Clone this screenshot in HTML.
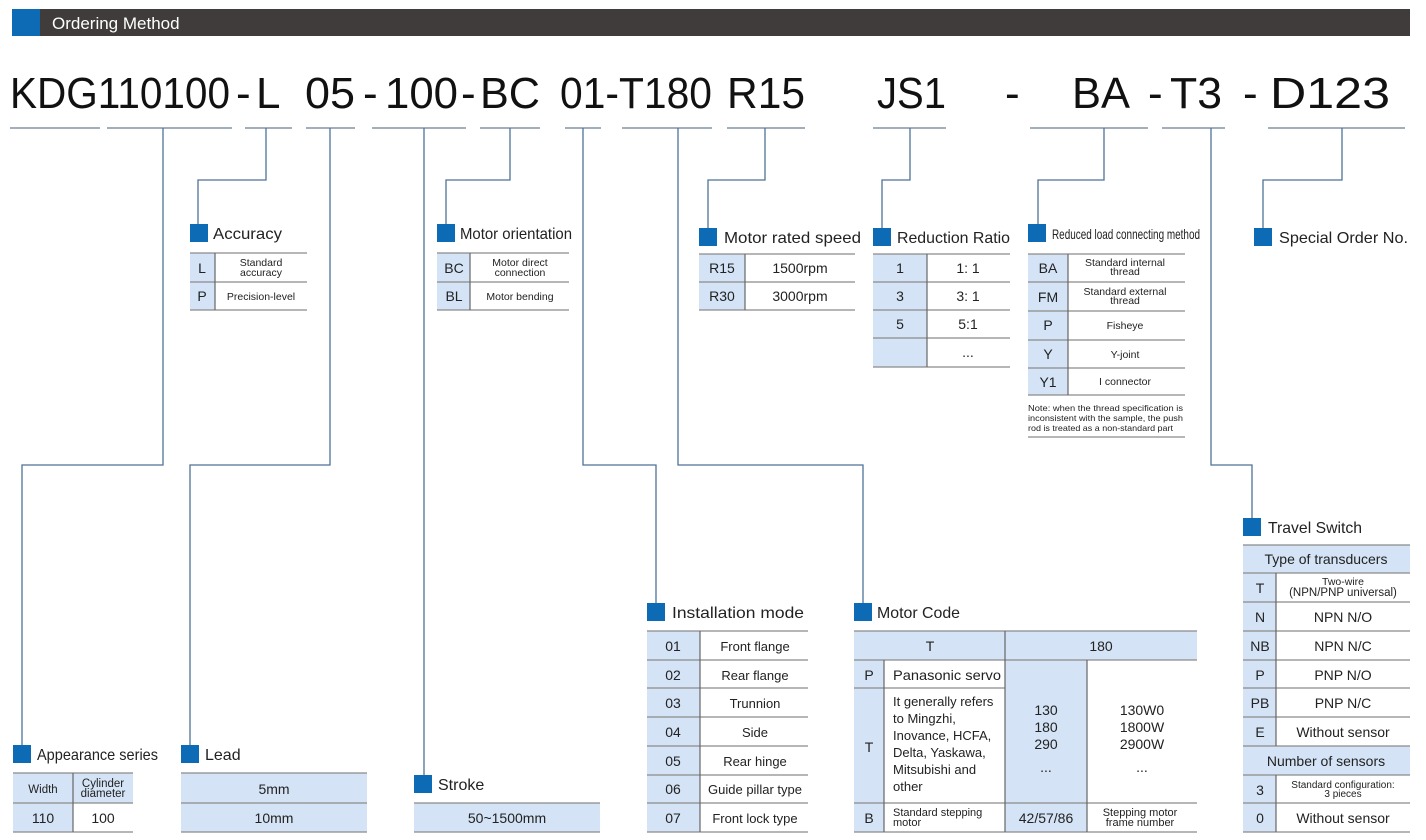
<!DOCTYPE html>
<html><head><meta charset="utf-8"><style>
html,body{margin:0;padding:0;background:#fff;}
svg{display:block}
text{font-family:"Liberation Sans Narrow","Liberation Sans",sans-serif;fill:#222}
.big{font-family:"Liberation Sans",sans-serif;font-size:44px;fill:#111}
.lab{font-size:16px;fill:#222}
.c{text-anchor:middle;font-size:14px}
.s{text-anchor:middle;font-size:10.5px}
.cn{stroke:#4f7297;stroke-width:1.3;fill:none}
.ul{stroke:#6b7d90;stroke-width:1.3}
.hl{stroke:#8a8a8a;stroke-width:1.3}
.vl{stroke:#666;stroke-width:1.2}
.lb{fill:#d4e4f6}
.sq{fill:#0d6ab5}
</style></head><body>
<svg width="1426" height="840" viewBox="0 0 1426 840" xmlns="http://www.w3.org/2000/svg">
<rect x="12" y="9" width="1398" height="27" fill="#3f3c3b"/>
<rect x="12" y="9" width="28" height="27" fill="#0d6ab5"/>
<text x="52" y="29" style="font-family:'Liberation Sans',sans-serif;font-size:17px;fill:#fff">Ordering Method</text>

<text class="big" x="10" y="108" textLength="220" lengthAdjust="spacingAndGlyphs">KDG110100</text>
<text class="big" x="236" y="108">-</text>
<text class="big" x="256" y="108">L</text>
<text class="big" x="305" y="108" textLength="50" lengthAdjust="spacingAndGlyphs">05</text>
<text class="big" x="363" y="108">-</text>
<text class="big" x="385" y="108" textLength="73" lengthAdjust="spacingAndGlyphs">100</text>
<text class="big" x="461" y="108">-</text>
<text class="big" x="480" y="108" textLength="60" lengthAdjust="spacingAndGlyphs">BC</text>
<text class="big" x="560" y="108" textLength="152" lengthAdjust="spacingAndGlyphs">01-T180</text>
<text class="big" x="727" y="108" textLength="78" lengthAdjust="spacingAndGlyphs">R15</text>
<text class="big" x="877" y="108" textLength="69" lengthAdjust="spacingAndGlyphs">JS1</text>
<text class="big" x="1005" y="108">-</text>
<text class="big" x="1072" y="108" textLength="58" lengthAdjust="spacingAndGlyphs">BA</text>
<text class="big" x="1148" y="108">-</text>
<text class="big" x="1170" y="108" textLength="52" lengthAdjust="spacingAndGlyphs">T3</text>
<text class="big" x="1243" y="108">-</text>
<text class="big" x="1270" y="108" textLength="120" lengthAdjust="spacingAndGlyphs">D123</text>

<g class="ul">
<line x1="10" y1="128" x2="100" y2="128"/><line x1="107" y1="128" x2="232" y2="128"/>
<line x1="245" y1="128" x2="292" y2="128"/><line x1="306" y1="128" x2="355" y2="128"/>
<line x1="372" y1="128" x2="466" y2="128"/><line x1="480" y1="128" x2="540" y2="128"/>
<line x1="565" y1="128" x2="601" y2="128"/><line x1="622" y1="128" x2="712" y2="128"/>
<line x1="727" y1="128" x2="805" y2="128"/><line x1="873" y1="128" x2="946" y2="128"/>
<line x1="1030" y1="128" x2="1148" y2="128"/><line x1="1162" y1="128" x2="1225" y2="128"/>
<line x1="1268" y1="128" x2="1405" y2="128"/>
</g>

<g class="cn">
<polyline points="163,128 163,465 22,465 22,746"/>
<polyline points="266,128 266,180 198,180 198,225"/>
<polyline points="330,128 330,465 190,465 190,746"/>
<polyline points="424,128 424,776"/>
<polyline points="510,128 510,180 446,180 446,225"/>
<polyline points="583,128 583,465 656,465 656,604"/>
<polyline points="678,128 678,465 863,465 863,604"/>
<polyline points="765,128 765,180 708,180 708,229"/>
<polyline points="910,128 910,180 882,180 882,229"/>
<polyline points="1104,128 1104,180 1038,180 1038,225"/>
<polyline points="1211,128 1211,465 1252,465 1252,519"/>
<polyline points="1342,128 1342,180 1263,180 1263,229"/>
</g>

<rect class="sq" x="190" y="224" width="18" height="18"/>
<text class="lab" x="213" y="239" textLength="69" lengthAdjust="spacingAndGlyphs">Accuracy</text>
<rect class="lb" x="190" y="253" width="25" height="57"/>
<g class="hl"><line x1="190" y1="253" x2="307" y2="253"/><line x1="190" y1="282" x2="307" y2="282"/><line x1="190" y1="310" x2="307" y2="310"/></g>
<line class="vl" x1="215" y1="253" x2="215" y2="310"/>
<text class="c" x="202" y="273">L</text><text class="c" x="202" y="301">P</text>
<text class="s" x="261" y="266">Standard</text><text class="s" x="261" y="276">accuracy</text>
<text class="s" x="261" y="300">Precision-level</text>

<rect class="sq" x="437" y="224" width="18" height="18"/>
<text class="lab" x="460" y="239" textLength="112" lengthAdjust="spacingAndGlyphs">Motor orientation</text>
<rect class="lb" x="437" y="253" width="33" height="57"/>
<g class="hl"><line x1="437" y1="253" x2="569" y2="253"/><line x1="437" y1="282" x2="569" y2="282"/><line x1="437" y1="310" x2="569" y2="310"/></g>
<line class="vl" x1="470" y1="253" x2="470" y2="310"/>
<text class="c" x="454" y="273">BC</text><text class="c" x="454" y="301">BL</text>
<text class="s" x="520" y="266">Motor direct</text><text class="s" x="520" y="276">connection</text>
<text class="s" x="520" y="300">Motor bending</text>

<rect class="sq" x="699" y="228" width="18" height="18"/>
<text class="lab" x="724" y="243" textLength="137" lengthAdjust="spacingAndGlyphs">Motor rated speed</text>
<rect class="lb" x="699" y="254" width="46" height="56"/>
<g class="hl"><line x1="699" y1="254" x2="855" y2="254"/><line x1="699" y1="282" x2="855" y2="282"/><line x1="699" y1="310" x2="855" y2="310"/></g>
<line class="vl" x1="745" y1="254" x2="745" y2="310"/>
<text class="c" x="722" y="273">R15</text><text class="c" x="722" y="301">R30</text>
<text class="c" x="800" y="273">1500rpm</text><text class="c" x="800" y="301">3000rpm</text>

<rect class="sq" x="873" y="228" width="18" height="18"/>
<text class="lab" x="897" y="243" textLength="113" lengthAdjust="spacingAndGlyphs">Reduction Ratio</text>
<rect class="lb" x="873" y="254" width="54" height="113"/>
<g class="hl"><line x1="873" y1="254" x2="1010" y2="254"/><line x1="873" y1="282" x2="1010" y2="282"/><line x1="873" y1="310" x2="1010" y2="310"/><line x1="873" y1="338" x2="1010" y2="338"/><line x1="873" y1="367" x2="1010" y2="367"/></g>
<line class="vl" x1="927" y1="254" x2="927" y2="367"/>
<text class="c" x="900" y="273">1</text><text class="c" x="900" y="301">3</text><text class="c" x="900" y="329">5</text>
<text class="c" x="968" y="273">1: 1</text><text class="c" x="968" y="301">3: 1</text><text class="c" x="968" y="329">5:1</text><text class="c" x="968" y="357">...</text>

<rect class="sq" x="1028" y="224" width="18" height="18"/>
<text x="1052" y="239" style="font-size:14px" textLength="148" lengthAdjust="spacingAndGlyphs">Reduced load connecting method</text>
<rect class="lb" x="1028" y="254" width="40" height="141"/>
<g class="hl"><line x1="1028" y1="254" x2="1185" y2="254"/><line x1="1028" y1="282" x2="1185" y2="282"/><line x1="1028" y1="311" x2="1185" y2="311"/><line x1="1028" y1="340" x2="1185" y2="340"/><line x1="1028" y1="368" x2="1185" y2="368"/><line x1="1028" y1="395" x2="1185" y2="395"/><line x1="1028" y1="437" x2="1185" y2="437"/></g>
<line class="vl" x1="1068" y1="254" x2="1068" y2="395"/>
<text class="c" x="1048" y="273">BA</text><text class="c" x="1048" y="302">FM</text><text class="c" x="1048" y="330">P</text><text class="c" x="1048" y="359">Y</text><text class="c" x="1048" y="387">Y1</text>
<text class="s" x="1125" y="266">Standard internal</text><text class="s" x="1125" y="275">thread</text>
<text class="s" x="1125" y="295">Standard external</text><text class="s" x="1125" y="304">thread</text>
<text class="s" x="1125" y="329">Fisheye</text><text class="s" x="1125" y="358">Y-joint</text><text class="s" x="1125" y="385">I connector</text>
<text x="1028" y="411" style="font-size:8.5px" textLength="155" lengthAdjust="spacingAndGlyphs">Note: when the thread specification is</text>
<text x="1028" y="421" style="font-size:8.5px" textLength="155" lengthAdjust="spacingAndGlyphs">inconsistent with the sample, the push</text>
<text x="1028" y="431" style="font-size:8.5px" textLength="145" lengthAdjust="spacingAndGlyphs">rod is treated as a non-standard part</text>

<rect class="sq" x="1254" y="228" width="18" height="18"/>
<text class="lab" x="1279" y="243" textLength="129" lengthAdjust="spacingAndGlyphs">Special Order No.</text>

<rect class="sq" x="1243" y="518" width="18" height="18"/>
<text class="lab" x="1268" y="533" textLength="94" lengthAdjust="spacingAndGlyphs">Travel Switch</text>
<rect class="lb" x="1243" y="545" width="167" height="28"/>
<rect class="lb" x="1243" y="573" width="33" height="173"/>
<rect class="lb" x="1243" y="746" width="167" height="29"/>
<rect class="lb" x="1243" y="775" width="33" height="57"/>
<g class="hl">
<line x1="1243" y1="545" x2="1410" y2="545"/><line x1="1243" y1="573" x2="1410" y2="573"/><line x1="1243" y1="602" x2="1410" y2="602"/><line x1="1243" y1="631" x2="1410" y2="631"/><line x1="1243" y1="660" x2="1410" y2="660"/><line x1="1243" y1="688" x2="1410" y2="688"/><line x1="1243" y1="717" x2="1410" y2="717"/><line x1="1243" y1="746" x2="1410" y2="746"/><line x1="1243" y1="775" x2="1410" y2="775"/><line x1="1243" y1="803" x2="1410" y2="803"/><line x1="1243" y1="832" x2="1410" y2="832"/>
</g>
<line class="vl" x1="1276" y1="573" x2="1276" y2="746"/><line class="vl" x1="1276" y1="775" x2="1276" y2="832"/>
<text class="c" x="1326" y="564">Type of transducers</text>
<text class="c" x="1260" y="593">T</text><text class="s" x="1343" y="585">Two-wire</text><text class="s" x="1343" y="596" style="font-size:11.5px">(NPN/PNP universal)</text>
<text class="c" x="1260" y="622">N</text><text class="c" x="1343" y="622">NPN  N/O</text>
<text class="c" x="1260" y="651">NB</text><text class="c" x="1343" y="651">NPN  N/C</text>
<text class="c" x="1260" y="680">P</text><text class="c" x="1343" y="680">PNP  N/O</text>
<text class="c" x="1260" y="708">PB</text><text class="c" x="1343" y="708">PNP  N/C</text>
<text class="c" x="1260" y="737">E</text><text class="c" x="1343" y="737">Without sensor</text>
<text class="c" x="1326" y="766">Number of sensors</text>
<text class="c" x="1260" y="795">3</text><text class="s" x="1343" y="788" style="font-size:10px">Standard configuration:</text><text class="s" x="1343" y="797" style="font-size:10px">3 pieces</text>
<text class="c" x="1260" y="823">0</text><text class="c" x="1343" y="823">Without sensor</text>

<rect class="sq" x="647" y="603" width="18" height="18"/>
<text class="lab" x="672" y="618" textLength="132" lengthAdjust="spacingAndGlyphs">Installation mode</text>
<rect class="lb" x="647" y="631" width="53" height="201"/>
<g class="hl">
<line x1="647" y1="631" x2="808" y2="631"/><line x1="647" y1="660" x2="808" y2="660"/><line x1="647" y1="688" x2="808" y2="688"/><line x1="647" y1="717" x2="808" y2="717"/><line x1="647" y1="746" x2="808" y2="746"/><line x1="647" y1="775" x2="808" y2="775"/><line x1="647" y1="803" x2="808" y2="803"/><line x1="647" y1="832" x2="808" y2="832"/>
</g>
<line class="vl" x1="700" y1="631" x2="700" y2="832"/>
<text class="c" x="673" y="651">01</text><text class="c" x="673" y="680">02</text><text class="c" x="673" y="708">03</text><text class="c" x="673" y="737">04</text><text class="c" x="673" y="766">05</text><text class="c" x="673" y="794">06</text><text class="c" x="673" y="823">07</text>
<text class="c" x="755" y="651" style="font-size:13px">Front flange</text><text class="c" x="755" y="680" style="font-size:13px">Rear flange</text><text class="c" x="755" y="708" style="font-size:13px">Trunnion</text><text class="c" x="755" y="737" style="font-size:13px">Side</text><text class="c" x="755" y="766" style="font-size:13px">Rear hinge</text><text class="c" x="755" y="794" style="font-size:13px">Guide pillar type</text><text class="c" x="755" y="823" style="font-size:13px">Front lock type</text>

<rect class="sq" x="854" y="603" width="18" height="18"/>
<text class="lab" x="877" y="618" textLength="83" lengthAdjust="spacingAndGlyphs">Motor Code</text>
<rect class="lb" x="854" y="631" width="343" height="29"/>
<rect class="lb" x="854" y="660" width="30" height="172"/>
<rect class="lb" x="1005" y="660" width="82" height="172"/>
<g class="hl">
<line x1="854" y1="631" x2="1197" y2="631"/><line x1="854" y1="660" x2="1197" y2="660"/><line x1="854" y1="688" x2="1005" y2="688"/><line x1="854" y1="803" x2="1197" y2="803"/><line x1="854" y1="832" x2="1197" y2="832"/>
</g>
<line class="vl" x1="1005" y1="631" x2="1005" y2="832"/><line class="vl" x1="884" y1="660" x2="884" y2="832"/><line class="vl" x1="1087" y1="660" x2="1087" y2="832"/>
<text class="c" x="930" y="651">T</text><text class="c" x="1101" y="651">180</text>
<text class="c" x="869" y="680">P</text><text x="893" y="680" style="font-size:14px" textLength="108" lengthAdjust="spacingAndGlyphs">Panasonic servo</text>
<text class="c" x="869" y="752">T</text>
<text x="893" y="706" style="font-size:13px">It generally refers</text>
<text x="893" y="723" style="font-size:13px">to Mingzhi,</text>
<text x="893" y="740" style="font-size:13px">Inovance, HCFA,</text>
<text x="893" y="757" style="font-size:13px">Delta, Yaskawa,</text>
<text x="893" y="774" style="font-size:13px">Mitsubishi and</text>
<text x="893" y="791" style="font-size:13px">other</text>
<text class="c" x="1046" y="715">130</text><text class="c" x="1046" y="732">180</text><text class="c" x="1046" y="749">290</text><text class="c" x="1046" y="772">...</text>
<text class="c" x="1142" y="715">130W0</text><text class="c" x="1142" y="732">1800W</text><text class="c" x="1142" y="749">2900W</text><text class="c" x="1142" y="772">...</text>
<text class="c" x="869" y="823">B</text>
<text x="893" y="816" style="font-size:11px">Standard stepping</text><text x="893" y="826" style="font-size:11px">motor</text>
<text class="c" x="1046" y="823">42/57/86</text>
<text class="s" x="1140" y="816" style="font-size:11px">Stepping motor</text><text class="s" x="1140" y="826" style="font-size:11px">frame number</text>

<rect class="sq" x="13" y="745" width="18" height="18"/>
<text class="lab" x="37" y="760" textLength="121" lengthAdjust="spacingAndGlyphs">Appearance series</text>
<rect class="lb" x="13" y="773" width="120" height="30"/>
<rect class="lb" x="13" y="803" width="60" height="29"/>
<g class="hl"><line x1="13" y1="773" x2="133" y2="773"/><line x1="13" y1="803" x2="133" y2="803"/><line x1="13" y1="832" x2="133" y2="832"/></g>
<line class="vl" x1="73" y1="773" x2="73" y2="832"/>
<text class="s" x="43" y="793" style="font-size:11.5px">Width</text>
<text class="s" x="103" y="787" style="font-size:11.5px">Cylinder</text><text class="s" x="103" y="797" style="font-size:11.5px">diameter</text>
<text class="c" x="43" y="823">110</text><text class="c" x="103" y="823">100</text>

<rect class="sq" x="181" y="745" width="18" height="18"/>
<text class="lab" x="205" y="760">Lead</text>
<rect class="lb" x="181" y="773" width="186" height="59"/>
<g class="hl"><line x1="181" y1="773" x2="367" y2="773"/><line x1="181" y1="803" x2="367" y2="803"/><line x1="181" y1="832" x2="367" y2="832"/></g>
<text class="c" x="274" y="794">5mm</text><text class="c" x="274" y="823">10mm</text>

<rect class="sq" x="414" y="775" width="18" height="18"/>
<text class="lab" x="438" y="790">Stroke</text>
<rect class="lb" x="414" y="803" width="186" height="29"/>
<g class="hl"><line x1="414" y1="803" x2="600" y2="803"/><line x1="414" y1="832" x2="600" y2="832"/></g>
<text class="c" x="507" y="823">50~1500mm</text>
</svg>
</body></html>
